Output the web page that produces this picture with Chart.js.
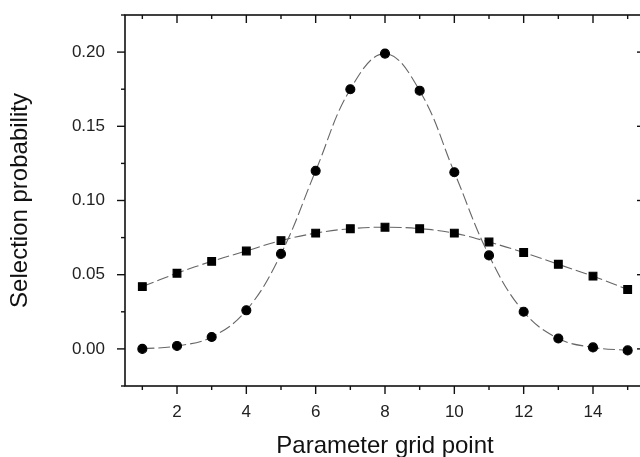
<!DOCTYPE html>
<html>
<head>
<meta charset="utf-8">
<script src="https://cdn.jsdelivr.net/npm/chart.js@4"></script>
<style>
  html, body { margin: 0; padding: 0; background: #fff; overflow: hidden; }
  #wrap { width: 640px; height: 457px; overflow: hidden; }
  #wrap div { width: 660px; height: 457px; }
</style>
</head>
<body>
<div id="wrap"><div><canvas id="chart" width="660" height="457"></canvas></div></div>
<script>
const gridPoints = [1, 2, 3, 4, 5, 6, 7, 8, 9, 10, 11, 12, 13, 14, 15];
const narrowProb = [0.000, 0.002, 0.008, 0.026, 0.064, 0.120, 0.175, 0.199, 0.174, 0.119, 0.063, 0.025, 0.007, 0.001, -0.001];
const wideProb = [0.042, 0.051, 0.059, 0.066, 0.073, 0.078, 0.081, 0.082, 0.081, 0.078, 0.072, 0.065, 0.057, 0.049, 0.040];
const xTicks = [2, 4, 6, 8, 10, 12, 14];
const yTicks = [0, 0.05, 0.10, 0.15, 0.20];

const toPts = ys => gridPoints.map((x, i) => ({ x: x, y: ys[i] }));

// frame + tick marks like the original plot
const framePlugin = {
    id: 'frame',
    afterDraw(chart) {
        const ctx = chart.ctx;
        const a = chart.chartArea;
        const xs = chart.scales.x, ys = chart.scales.y;
        ctx.save();
        ctx.strokeStyle = '#111';
        ctx.lineWidth = 1.6;
        ctx.strokeRect(a.left, a.top, a.right - a.left, a.bottom - a.top);
        ctx.lineWidth = 1.4;
        const line = (x1, y1, x2, y2) => { ctx.beginPath(); ctx.moveTo(x1, y1); ctx.lineTo(x2, y2); ctx.stroke(); };
        for (let v = 1; v <= 15; v++) {
            const px = xs.getPixelForValue(v);
            const len = v % 2 === 0 ? 8 : 4;
            line(px, a.bottom, px, a.bottom + len);
            line(px, a.top, px, a.top + len);
        }
        for (let k = -1; k <= 9; k++) {
            const v = k * 0.025;
            const py = ys.getPixelForValue(v);
            if (py < a.top || py > a.bottom) continue;
            const len = k % 2 === 0 ? 8 : 4;
            line(a.left, py, a.left - len, py);
            line(a.right, py, a.right - len, py);
        }
        ctx.restore();
    }
};

const lineStyle = {
    showLine: true,
    borderColor: '#666',
    borderWidth: 1.1,
    borderDash: [12, 4],
    tension: 0.4,
    pointBackgroundColor: '#000',
    pointBorderColor: '#000'
};

new Chart(document.getElementById('chart'), {
    type: 'scatter',
    data: {
        datasets: [
            Object.assign({ label: 'narrow', data: toPts(narrowProb), pointStyle: 'circle', pointRadius: 4.5 }, lineStyle),
            Object.assign({ label: 'wide', data: toPts(wideProb), pointStyle: 'rect', pointRadius: 5.5 }, lineStyle)
        ]
    },
    options: {
        responsive: false,
        animation: false,
        layout: { padding: { top: 15, right: 15, left: 0, bottom: 0 } },
        plugins: { legend: { display: false }, tooltip: { enabled: false } },
        scales: {
            x: {
                type: 'linear',
                min: 0.5,
                max: 15.5,
                grid: { display: false },
                border: { display: false },
                afterBuildTicks: s => { s.ticks = xTicks.map(v => ({ value: v })); },
                afterFit: s => { s.height = 71; },
                ticks: { color: '#222', font: { family: 'Liberation Sans', size: 17 }, padding: 8 },
                title: { display: true, text: 'Parameter grid point', color: '#111', font: { family: 'Liberation Sans', size: 24 }, padding: { top: 4, bottom: -4 } }
            },
            y: {
                min: -0.025,
                max: 0.225,
                grid: { display: false },
                border: { display: false },
                afterBuildTicks: s => { s.ticks = yTicks.map(v => ({ value: v })); },
                afterFit: s => { s.width = 125; s.paddingTop = 0; s.paddingBottom = 0; },
                ticks: { color: '#222', font: { family: 'Liberation Sans', size: 17 }, padding: 12, callback: v => v.toFixed(2) },
                title: { display: true, text: 'Selection probability', color: '#111', font: { family: 'Liberation Sans', size: 24 }, padding: { top: 6, bottom: 0 } }
            }
        }
    },
    plugins: [framePlugin]
});
</script>
</body>
</html>
